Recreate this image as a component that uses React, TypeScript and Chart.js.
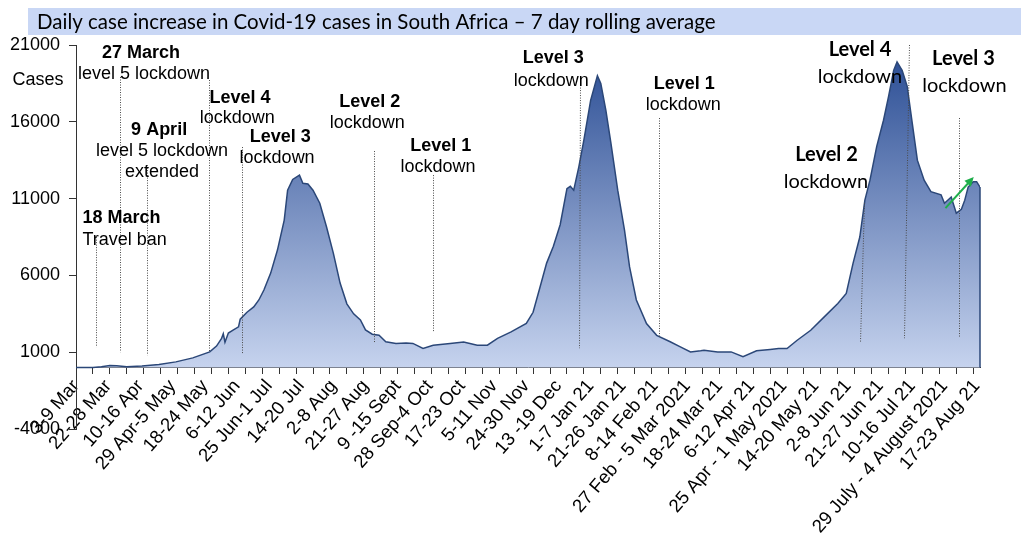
import React, { useEffect, useRef } from "react";
import { Chart, registerables } from "chart.js";

Chart.register(...registerables);

const TITLE = "Daily case increase in Covid-19 cases in South Africa – 7 day rolling average";

// day index counted from 3 March 2020
const days = [
  0, 10, 15, 20, 24, 30, 39, 49, 59, 69, 79, 83, 86, 87, 88, 90, 93, 96, 97, 101,
  105, 108, 111, 115, 119, 123, 125, 128, 132, 134, 137, 140, 144, 148, 152, 156, 160, 164, 168, 171,
  175, 179, 183, 189, 195, 199, 205, 211, 221, 229, 237, 243, 249, 257, 266, 270, 274, 278, 282, 286,
  290, 292, 294, 297, 300, 304, 308, 310, 313, 316, 320, 324, 327, 331, 337, 343, 351, 357, 363, 369,
  371, 379, 387, 394, 402, 410, 415, 420, 426, 434, 442, 450, 455, 459, 463, 466, 469, 473, 477, 480,
  483, 485, 488, 491, 494, 497, 501, 505, 511, 513, 517, 520, 523, 525, 527, 530, 532, 534,
];
const cases = [
  0, 10, 60, 130, 120, 60, 100, 200, 370, 630, 1020, 1400, 1900, 2200, 1650, 2250, 2450, 2650, 3150, 3600,
  3950, 4400, 5050, 6150, 7650, 9600, 11550, 12250, 12530, 12000, 11950, 11550, 10700, 9150, 7450, 5500, 4150, 3500, 3100, 2450,
  2170, 2100, 1680, 1570, 1600, 1570, 1250, 1450, 1570, 1670, 1460, 1460, 1900, 2320, 2870, 3600, 5200, 6800, 7900, 9300,
  11650, 11800, 11550, 13050, 14800, 17400, 19000, 18500, 16750, 14600, 11550, 8950, 6550, 4400, 2870, 2100, 1680, 1350, 1020, 1090,
  1130, 1020, 1020, 700, 1090, 1180, 1240, 1240, 1780, 2430, 3300, 4170, 4820, 6780, 8500, 10900, 12200, 14400, 16100, 17650,
  19350, 19900, 19350, 18300, 15900, 13500, 12200, 11450, 11250, 10700, 11100, 10050, 10300, 10900, 11750, 12100, 12100, 11750,
];
const weekLabels = [
  "3-9 Mar", "22-28 Mar", "10-16 Apr", "29 Apr-5 May", "18-24 May", "6-12 Jun", "25 Jun-1 Jul",
  "14-20 Jul", "2-8 Aug", "21-27 Aug", "9 -15 Sept", "28 Sep-4 Oct", "17-23 Oct", "5-11 Nov",
  "24-30 Nov", "13 -19 Dec", "1-7 Jan 21", "21-26 Jan 21", "8-14 Feb 21", "27 Feb - 5 Mar 2021",
  "18-24 Mar 21", "6-12 Apr 21", "25 Apr - 1 May 2021", "14-20 May 21", "2-8 Jun 21", "21-27 Jun 21",
  "10-16 Jul 21", "29 July - 4 August 2021", "17-23 Aug 21",
];
const yTickValues = [-4000, 1000, 6000, 11000, 16000, 21000];
const LABEL_STEP = 19;
const TICK_STEP = 10;
const X_MAX = 534;

// event marker lines: [dayTop, valueTop, dayBottom, valueBottom]
const markers = [
  [11.8, 8490, 11.8, 1325],
  [26, 18915, 26, 1000],
  [41.7, 13180, 41.7, 800],
  [78.3, 18720, 78.3, 1000],
  [98.1, 14355, 98.1, 935],
  [175.8, 14095, 175.8, 1650],
  [210.7, 12530, 210.7, 2300],
  [297.9, 18390, 296.9, 1260],
  [344.2, 16245, 344.2, 1975],
  [465.7, 10705, 462.9, 1650],
  [492.3, 21000, 488.9, 1910],
  [521.5, 16245, 521.5, 1975],
];

type Note = { d: number; v: number; text: string; bold?: boolean; alt?: boolean };
const notes: Note[] = [
  { d: 38.4, v: 20480, text: "27 March", bold: true },
  { d: 40.2, v: 19110, text: "level 5 lockdown" },
  { d: -22.5, v: 18720, text: "Cases" },
  { d: 49.1, v: 15460, text: "9 April", bold: true },
  { d: 50.8, v: 14095, text: "level 5 lockdown" },
  { d: 50.8, v: 12730, text: "extended" },
  { d: 96.9, v: 17550, text: "Level 4", bold: true },
  { d: 95.2, v: 16245, text: "lockdown" },
  { d: 120.6, v: 15010, text: "Level 3", bold: true },
  { d: 118.8, v: 13640, text: "lockdown" },
  { d: 26.9, v: 9730, text: "18 March", bold: true },
  { d: 28.7, v: 8300, text: "Travel ban" },
  { d: 173.5, v: 17305, text: "Level 2", bold: true },
  { d: 172, v: 15940, text: "lockdown" },
  { d: 215.5, v: 14420, text: "Level 1", bold: true },
  { d: 213.9, v: 13070, text: "lockdown" },
  { d: 281.9, v: 20150, text: "Level 3", bold: true },
  { d: 280.7, v: 18675, text: "lockdown" },
  { d: 359.3, v: 18460, text: "Level 1", bold: true },
  { d: 358.7, v: 17090, text: "lockdown" },
  { d: 443.3, v: 13900, text: "Level 2", bold: true, alt: true },
  { d: 443, v: 12095, text: "lockdown", alt: true },
  { d: 463.1, v: 20675, text: "Level 4", bold: true, alt: true },
  { d: 463.1, v: 18935, text: "lockdown", alt: true },
  { d: 524.2, v: 20150, text: "Level 3", bold: true, alt: true },
  { d: 524.8, v: 18390, text: "lockdown", alt: true },
];
const arrow = [513.6, 10380, 530.3, 12400];

const LINE = "#2b4778";
const ARIAL = "'Liberation Sans', Arial, sans-serif";
const CALIBRI = "Lato, 'Open Sans', sans-serif";

const overlay = {
  id: "overlay",
  beforeDraw(chart: any) {
    const { ctx, width, height } = chart;
    ctx.save();
    ctx.fillStyle = "#ffffff";
    ctx.fillRect(0, 0, width, height);
    ctx.fillStyle = "#c9d7f5";
    ctx.fillRect(28, 8, width - 28, 27);
    let size = 19;
    ctx.font = `${size}px ${CALIBRI}`;
    const w = ctx.measureText(TITLE).width;
    size = (size * 679) / w;
    ctx.font = `${size}px ${CALIBRI}`;
    ctx.fillStyle = "#000";
    ctx.textAlign = "left";
    ctx.textBaseline = "middle";
    ctx.fillText(TITLE, 37, 22);
    ctx.restore();
  },
  afterDatasetsDraw(chart: any) {
    const { ctx } = chart;
    const xs = chart.scales.x;
    const ys = chart.scales.y;
    ctx.save();
    // right edge of the area
    const lx = xs.getPixelForValue(days[days.length - 1]);
    ctx.strokeStyle = LINE;
    ctx.lineWidth = 1.5;
    ctx.beginPath();
    ctx.moveTo(lx, ys.getPixelForValue(cases[cases.length - 1]));
    ctx.lineTo(lx, ys.getPixelForValue(0));
    ctx.stroke();
    // markers
    ctx.strokeStyle = "#4a4a4a";
    ctx.lineWidth = 1;
    ctx.setLineDash([1, 1.5]);
    markers.forEach(([d1, v1, d2, v2]) => {
      ctx.beginPath();
      ctx.moveTo(Math.round(xs.getPixelForValue(d1)) + 0.5, ys.getPixelForValue(v1));
      ctx.lineTo(Math.round(xs.getPixelForValue(d2)) + 0.5, ys.getPixelForValue(v2));
      ctx.stroke();
    });
    ctx.setLineDash([]);
    // arrow
    const ax1 = xs.getPixelForValue(arrow[0]);
    const ay1 = ys.getPixelForValue(arrow[1]);
    const ax2 = xs.getPixelForValue(arrow[2]);
    const ay2 = ys.getPixelForValue(arrow[3]);
    const ang = Math.atan2(ay2 - ay1, ax2 - ax1);
    const hl = 10;
    ctx.strokeStyle = "#1fae4b";
    ctx.fillStyle = "#1fae4b";
    ctx.lineWidth = 2;
    ctx.beginPath();
    ctx.moveTo(ax1, ay1);
    ctx.lineTo(ax2 - Math.cos(ang) * hl * 0.8, ay2 - Math.sin(ang) * hl * 0.8);
    ctx.stroke();
    ctx.beginPath();
    ctx.moveTo(ax2, ay2);
    ctx.lineTo(ax2 - hl * Math.cos(ang - 0.45), ay2 - hl * Math.sin(ang - 0.45));
    ctx.lineTo(ax2 - hl * Math.cos(ang + 0.45), ay2 - hl * Math.sin(ang + 0.45));
    ctx.closePath();
    ctx.fill();
    // notes
    ctx.fillStyle = "#000";
    ctx.textAlign = "center";
    ctx.textBaseline = "middle";
    notes.forEach((n) => {
      const fam = n.alt ? CALIBRI : ARIAL;
      const sz = n.alt ? 20 : 18;
      ctx.font = `${n.bold ? "bold " : ""}${sz}px ${fam}`;
      ctx.fillText(n.text, xs.getPixelForValue(n.d), ys.getPixelForValue(n.v));
    });
    ctx.restore();
  },
};

export default function App() {
  const ref = useRef<HTMLCanvasElement | null>(null);
  useEffect(() => {
    if (!ref.current) return;
    const chart = new Chart(ref.current, {
      type: "line",
      data: {
        datasets: [
          {
            data: days.map((d, i) => ({ x: d, y: cases[i] })),
            borderColor: LINE,
            borderWidth: 1.5,
            pointRadius: 0,
            tension: 0,
            fill: "origin",
            backgroundColor: (c: any) => {
              const ch = c.chart;
              if (!ch.chartArea) return "#8aa3d6";
              const y = ch.scales.y;
              const g = ch.ctx.createLinearGradient(0, y.getPixelForValue(20000), 0, y.getPixelForValue(0));
              g.addColorStop(0, "#2e5096");
              g.addColorStop(1, "#c6d3ee");
              return g;
            },
          },
        ],
      },
      options: {
        responsive: false,
        animation: false,
        events: [],
        layout: { padding: { left: 0, top: 45, right: 41, bottom: 109 } },
        plugins: { legend: { display: false }, tooltip: { enabled: false }, title: { display: false } },
        scales: {
          x: {
            type: "linear",
            min: 0,
            max: X_MAX,
            position: { y: 0 } as any,
            afterBuildTicks: (s: any) => {
              const set = new Set<number>();
              for (let v = 0; v <= X_MAX; v += TICK_STEP) set.add(v);
              weekLabels.forEach((_, k) => set.add(k * LABEL_STEP));
              s.ticks = Array.from(set)
                .sort((a, b) => a - b)
                .map((v) => ({ value: v }));
            },
            grid: {
              drawOnChartArea: false,
              tickLength: 6,
              color: (c: any) => (c.tick && c.tick.value % TICK_STEP === 0 ? "#333333" : "rgba(0,0,0,0)"),
            },
            border: { display: true, color: "#333333", width: 1 },
            ticks: {
              autoSkip: false,
              minRotation: 49,
              maxRotation: 49,
              padding: 2,
              color: "#000",
              font: { family: ARIAL, size: 18.6 },
              callback: (v: any) => (v % LABEL_STEP === 0 ? weekLabels[v / LABEL_STEP] : ""),
            },
          },
          y: {
            type: "linear",
            min: -4000,
            max: 21000,
            afterBuildTicks: (s: any) => {
              s.ticks = yTickValues.map((v) => ({ value: v }));
            },
            afterFit: (s: any) => {
              s.width = 76;
            },
            grid: { drawOnChartArea: false, tickLength: 7, color: "#333333" },
            border: { display: true, color: "#333333", width: 1 },
            ticks: {
              padding: 9,
              color: "#000",
              font: { family: ARIAL, size: 18 },
              callback: (v: any) => String(v),
            },
          },
        },
      },
      plugins: [overlay],
    });
    return () => chart.destroy();
  }, []);
  return (
    <div style={{ position: "fixed", left: 0, top: 0, width: 1021, height: 538, background: "#fff" }}>
      <canvas ref={ref} width={1021} height={538} style={{ display: "block", width: 1021, height: 538 }} />
    </div>
  );
}
